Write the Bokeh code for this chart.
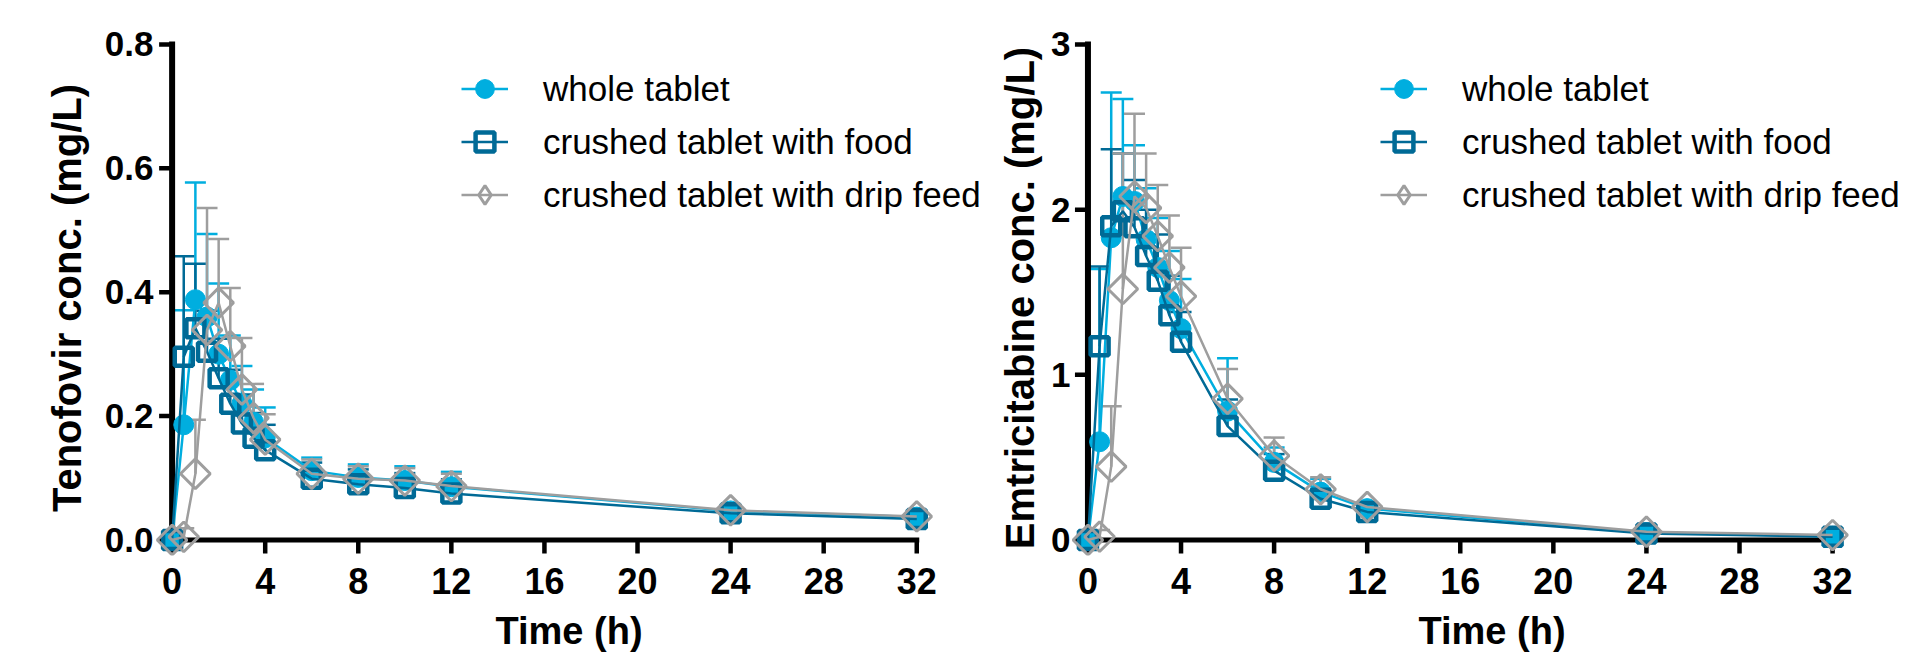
import math
from bokeh.plotting import figure
from bokeh.models import (ColumnDataSource, Whisker, TeeHead, Legend, LegendItem,
                          FixedTicker, NumeralTickFormatter, Range1d)
from bokeh.layouts import row
from bokeh.embed import file_html
from bokeh.resources import INLINE

# ---------------- data ----------------
time_h = [0, 0.5, 1, 1.5, 2, 2.5, 3, 3.5, 4, 6, 8, 10, 12, 24, 32]
series_names = ["whole tablet", "crushed tablet with food", "crushed tablet with drip feed"]

# Tenofovir (mg/L): mean and mean+SD
tdf_whole = [0, 0.186, 0.388, 0.360, 0.300, 0.258, 0.220, 0.190, 0.165, 0.112, 0.101, 0.096, 0.086, 0.047, 0.037]
tdf_whole_up = [0, 0.371, 0.577, 0.494, 0.414, 0.330, 0.281, 0.243, 0.214, 0.133, 0.122, 0.119, 0.110, 0.055, 0.043]
tdf_food = [0, 0.296, 0.342, 0.304, 0.261, 0.220, 0.188, 0.165, 0.145, 0.099, 0.090, 0.084, 0.075, 0.043, 0.034]
tdf_food_up = [0, 0.458, 0.446, 0.370, 0.325, 0.275, 0.235, 0.205, 0.186, 0.125, 0.114, 0.108, 0.098, 0.052, 0.041]
tdf_drip = [0, 0.005, 0.107, 0.339, 0.383, 0.313, 0.243, 0.197, 0.162, 0.107, 0.099, 0.096, 0.087, 0.048, 0.038]
tdf_drip_up = [0, 0.019, 0.194, 0.536, 0.486, 0.407, 0.326, 0.252, 0.203, 0.130, 0.119, 0.116, 0.107, 0.056, 0.044]

# Emtricitabine (mg/L): mean and mean+SD
ftc_whole = [0, 0.595, 1.83, 2.08, 2.05, 1.82, 1.65, 1.45, 1.28, 0.78, 0.47, 0.29, 0.19, 0.045, 0.022]
ftc_whole_up = [0, 1.64, 2.71, 2.67, 2.39, 2.13, 1.95, 1.75, 1.58, 1.10, 0.56, 0.37, 0.22, 0.06, 0.03]
ftc_food = [0, 1.173, 1.90, 1.99, 1.894, 1.72, 1.57, 1.36, 1.20, 0.69, 0.42, 0.25, 0.17, 0.04, 0.02]
ftc_food_up = [0, 1.656, 2.366, 2.34, 2.18, 2.00, 1.85, 1.60, 1.38, 0.85, 0.52, 0.31, 0.20, 0.05, 0.025]
ftc_drip = [0, 0.02, 0.444, 1.52, 2.08, 2.01, 1.84, 1.65, 1.476, 0.855, 0.51, 0.307, 0.20, 0.05, 0.03]
ftc_drip_up = [0, 0.06, 0.81, 2.34, 2.58, 2.34, 2.15, 1.965, 1.77, 1.035, 0.62, 0.38, 0.22, 0.06, 0.035]

x_ticks = [0, 4, 8, 12, 16, 20, 24, 28, 32]
tdf_y_ticks = [0, 0.2, 0.4, 0.6, 0.8]
ftc_y_ticks = [0, 1, 2, 3]

# ---------------- style / geometry ----------------
colors = ["#00AEDF", "#006A96", "#9E9E9E"]
FONT = "Liberation Sans"
PX_H = 23.27          # px per hour on both x axes
HEIGHT = 655
BORDER_TOP = 40
BORDER_BOTTOM = 100
FRAME_H = HEIGHT - BORDER_TOP - BORDER_BOTTOM
ZERO_FROM_TOP = 499.5  # px from frame top down to y = 0
Y_TICK_PX = 13        # tick length (px) left of the y axis centre
X_TICK_PX = 13.5      # tick length (px) below the x axis centre


def make_panel(ylabel, means, ups, y_ticks, y_fmt, px_y, width, border_left,
               border_right, x_lo, label_standoff, legend_x):
    frame_w = width - border_left - border_right
    y_hi = ZERO_FROM_TOP / px_y
    p = figure(width=width, height=HEIGHT, output_backend="svg", toolbar_location=None,
               x_range=Range1d(x_lo, x_lo + frame_w / PX_H),
               y_range=Range1d(y_hi - FRAME_H / px_y, y_hi),
               min_border_left=border_left, min_border_right=border_right,
               min_border_top=BORDER_TOP, min_border_bottom=BORDER_BOTTOM)
    p.outline_line_color = None
    p.grid.visible = False
    p.background_fill_color = "white"
    p.border_fill_color = "white"

    # axis lines and ticks drawn at the data origin
    x_end = x_ticks[-1]
    y_end = y_ticks[-1]
    p.segment(x0=[0, 0], y0=[0, 0], x1=[0, x_end], y1=[y_end, 0],
              line_color="black", line_width=[6, 5], line_cap="square")
    p.segment(x0=[0] * len(y_ticks), y0=y_ticks,
              x1=[-Y_TICK_PX / PX_H] * len(y_ticks), y1=y_ticks,
              line_color="black", line_width=4.5)
    p.segment(x0=x_ticks, y0=[0] * len(x_ticks),
              x1=x_ticks, y1=[-X_TICK_PX / px_y] * len(x_ticks),
              line_color="black", line_width=4.5)

    for i in range(3):
        c = colors[i]
        keep = [k for k in range(len(time_h)) if ups[i][k] > means[i][k]]
        wsrc = ColumnDataSource(dict(base=[time_h[k] for k in keep],
                                     lower=[means[i][k] for k in keep],
                                     upper=[ups[i][k] for k in keep]))
        w = Whisker(source=wsrc, base="base", lower="lower", upper="upper",
                    dimension="height", line_color=c, line_width=2.5,
                    upper_head=TeeHead(size=21, line_color=c, line_width=2.5),
                    lower_head=None)
        p.add_layout(w)

    markers = [
        dict(marker="circle", size=20, fill_color=colors[0], line_color=colors[0], line_width=1),
        dict(marker="square", size=18, fill_color=None, line_color=colors[1], line_width=4.5),
        dict(marker="square", angle=math.pi / 4, size=21, fill_color=None,
             line_color=colors[2], line_width=3),
    ]
    items = []
    for i in range(3):
        c = colors[i]
        src = ColumnDataSource(dict(t=time_h, y=means[i]))
        lr = p.line("t", "y", source=src, line_color=c, line_width=2.5)
        mr = p.scatter("t", "y", source=src, **markers[i])
        if i == 2:
            # legend swatch: legends never rotate markers, so use a hidden diamond renderer
            mr = p.scatter("t", "y", source=src, marker="diamond", fill_color=None,
                           line_color=c, line_width=3, visible=False)
        items.append(LegendItem(label=series_names[i], renderers=[lr, mr]))

    xa = p.xaxis[0]
    ya = p.yaxis[0]
    xa.ticker = FixedTicker(ticks=x_ticks)
    ya.ticker = FixedTicker(ticks=y_ticks)
    ya.formatter = NumeralTickFormatter(format=y_fmt)
    xa.bounds = (x_ticks[0], x_end)
    ya.bounds = (y_ticks[0], y_end)
    xa.axis_label = "Time (h)"
    ya.axis_label = ylabel
    for ax, fs in ((xa, "36px"), (ya, "35px")):
        ax.axis_line_color = None
        ax.major_tick_line_color = None
        ax.minor_tick_line_color = None
        ax.major_tick_out = 0
        ax.major_tick_in = 0
        ax.minor_tick_out = 0
        ax.minor_tick_in = 0
        ax.major_label_text_font = FONT
        ax.major_label_text_font_style = "bold"
        ax.major_label_text_font_size = fs
        ax.major_label_text_color = "black"
        ax.axis_label_text_font = FONT
        ax.axis_label_text_font_style = "bold"
        ax.axis_label_text_color = "black"
    xa.major_label_standoff = 12
    xa.axis_label_standoff = 13
    xa.axis_label_text_font_size = "38px"
    ya.major_label_standoff = 0
    ya.axis_label_standoff = label_standoff
    ya.axis_label_text_font_size = "40px"

    leg = Legend(items=items, location=(legend_x, 337), orientation="vertical",
                 padding=0, margin=0, spacing=6, glyph_width=47, glyph_height=47,
                 label_height=47, label_standoff=35, label_text_font=FONT,
                 label_text_font_size="35px", label_text_color="black",
                 border_line_color=None, background_fill_alpha=0,
                 inactive_fill_alpha=0)
    p.add_layout(leg)
    return p


p1 = make_panel("Tenofovir conc. (mg/L)",
                [tdf_whole, tdf_food, tdf_drip], [tdf_whole_up, tdf_food_up, tdf_drip_up],
                tdf_y_ticks, "0.0", 619.4, 994, 153, 10, -0.8, 13, 308)
p2 = make_panel("Emtricitabine conc. (mg/L)",
                [ftc_whole, ftc_food, ftc_drip], [ftc_whole_up, ftc_food_up, ftc_drip_up],
                ftc_y_ticks, "0", 165.17, 919, 76, 0, -0.75, 6, 310)

layout = row(p1, p2)
open("out.html", "w").write(file_html(layout, INLINE))
